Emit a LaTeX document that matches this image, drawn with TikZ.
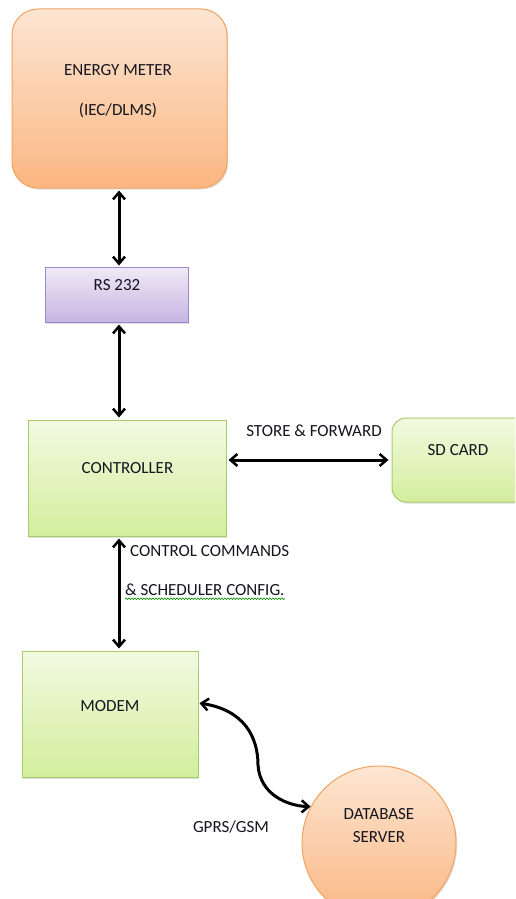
\documentclass[tikz,border=0pt]{standalone}
\usepackage{fontspec}
\setmainfont{Carlito}
\usetikzlibrary{arrows.meta,shadows,decorations.pathmorphing}
\definecolor{orBorder}{HTML}{F5A261}
\definecolor{orTop}{HTML}{FDE6D3}
\definecolor{orBot}{HTML}{FAB681}
\definecolor{puBorder}{HTML}{9C88C6}
\definecolor{puTop}{HTML}{EFEAF6}
\definecolor{puBot}{HTML}{C7B5E2}
\definecolor{grBorder}{HTML}{A8CC6C}
\definecolor{grTop}{HTML}{F3FAE1}
\definecolor{grBot}{HTML}{D2EE9C}
\definecolor{txt}{HTML}{15151F}
\tikzset{
  box/.style={draw, line width=1pt, inner sep=0pt, anchor=center,
    drop shadow={shadow xshift=1.2pt, shadow yshift=-1.5pt, opacity=0.25}},
  orbox/.style={box, draw=orBorder, top color=orTop, bottom color=orBot},
  pubox/.style={box, draw=puBorder, top color=puTop, bottom color=puBot},
  grbox/.style={box, draw=grBorder, top color=grTop, bottom color=grBot},
  lbl/.style={inner sep=0pt, text=txt, font=\fontsize{17}{20}\selectfont},
  conn/.style={line width=3pt, black, {Straight Barb[length=7pt,width=12pt,line width=2.5pt]}-{Straight Barb[length=7pt,width=12pt,line width=2.5pt]}}
}
\begin{document}
\begin{tikzpicture}[x=1pt,y=-1pt]
\useasboundingbox (0,0) rectangle (515,899);
\fill[white] (0,0) rectangle (515,899);
\begin{scope}
\clip (0,0) rectangle (515,899);
% boxes
\node[orbox, rounded corners=26pt, minimum width=215pt, minimum height=179pt] (meter) at (119.5,98.5) {};
\node[pubox, minimum width=143pt, minimum height=55pt] (rs) at (116.5,294.5) {};
\node[grbox, minimum width=198pt, minimum height=116pt] (ctrl) at (127,478) {};
\node[grbox, rounded corners=14pt, minimum width=140pt, minimum height=84pt] (sd) at (462,460) {};
\node[grbox, minimum width=176pt, minimum height=126pt] (modem) at (110,714) {};
\node[orbox, circle, minimum size=154pt] (db) at (379,843) {};
% labels
\node[lbl] (t1) at (118,70) {ENERGY METER};
\node[lbl] (t2) at (118,110) {(IEC/DLMS)};
\node[lbl] (t3) at (117,285) {RS 232};
\node[lbl] (t4) at (127.5,468) {CONTROLLER};
\node[lbl] (t5) at (314,431) {STORE \& FORWARD};
\node[lbl] (t6) at (458,450) {SD CARD};
\node[lbl, anchor=west] (t7) at (130,551) {CONTROL COMMANDS};
\node[lbl, anchor=west] (sched) at (125,590) {\& SCHEDULER CONFIG.};
\node[lbl] (t9) at (110,706) {MODEM};
\node[lbl] (t10) at (231,827) {GPRS/GSM};
\node[lbl] (t11) at (379,814) {DATABASE};
\node[lbl] (t12) at (379,837) {SERVER};
% spell-check underline
\draw[green!55!black, line width=0.6pt, decorate, decoration={snake, amplitude=0.8pt, segment length=3pt}]
  ([yshift=-3pt]sched.base west) -- ([yshift=-3pt]sched.base east);
% connectors
\coordinate (ax) at (119,0);
\draw[conn, shorten <=2pt, shorten >=1pt] (meter.south -| ax) -- (rs.north -| ax);
\draw[conn, shorten <=2pt, shorten >=2pt] (rs.south -| ax) -- (ctrl.north -| ax);
\draw[conn, shorten <=2pt, shorten >=2pt] (ctrl.south -| ax) -- (modem.north -| ax);
\draw[conn, shorten <=2pt, shorten >=3pt] (sd.west -| ctrl.east) -- (sd.west);
\coordinate (mdm) at ([yshift=11pt]modem.east);
\draw[conn, shorten <=1pt] (mdm) .. controls (245,710) and (258,738) .. (258,765)
   .. controls (260,795) and (288,806) .. (db.152);
\end{scope}
\end{tikzpicture}
\end{document}
